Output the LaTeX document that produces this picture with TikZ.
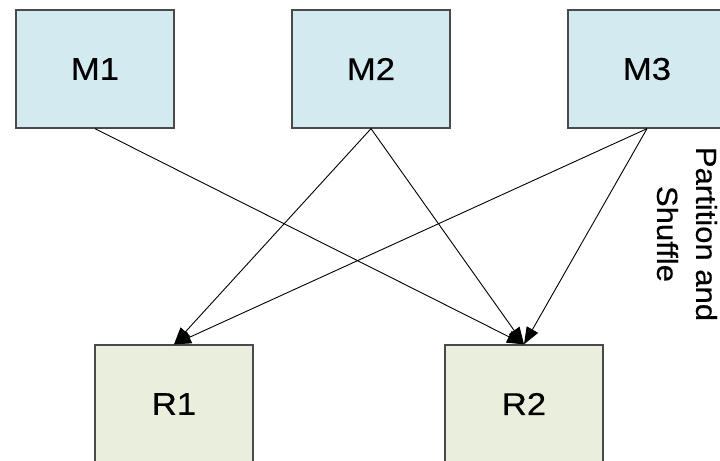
\documentclass[tikz,border=0pt]{standalone}
\usepackage{fontspec}
\setmainfont{Liberation Sans}[FakeBold=0.35]
\usetikzlibrary{arrows.meta}
\definecolor{mfill}{HTML}{D3EAF0}
\definecolor{rfill}{HTML}{EAEEDD}
\definecolor{bord}{HTML}{4A4A4A}
\tikzset{
  boxbase/.style={draw=bord, line width=1.3bp, minimum width=158bp, minimum height=118bp, inner sep=0pt, font=\fontsize{31.5bp}{36bp}\selectfont},
  mbox/.style={boxbase, fill=mfill},
  rbox/.style={boxbase, fill=rfill},
  arr/.style={draw=black, line width=0.9bp, -{Triangle[length=17bp, width=13bp]}},
}
\newcommand{\wide}[1]{\scalebox{1.1}[1]{#1}}
\begin{document}
\begin{tikzpicture}[x=1bp, y=-1bp]
\useasboundingbox (0,0) rectangle (720,461);
\clip (0,0) rectangle (720,461);
\fill[white] (0,0) rectangle (720,461);
\node[mbox] (M1) at (95,69) {\wide{M1}};
\node[mbox] (M2) at (371,69) {\wide{M2}};
\node[mbox] (M3) at (647,69) {\wide{M3}};
\node[rbox] (R1) at (174,404) {\wide{R1}};
\node[rbox] (R2) at (524,404) {\wide{R2}};
\draw[arr] (M1.south) -- (R2.north);
\draw[arr] (M2.south) -- (R1.north);
\draw[arr] (M2.south) -- (R2.north);
\draw[arr] (M3.south) -- (R1.north);
\draw[arr] (M3.south) -- (R2.north);
\begin{scope}[shift={(687,234)}]
\node[rotate=-90, xscale=1.07, transform shape, align=center, inner sep=0pt, font=\fontsize{29bp}{39bp}\selectfont] (lbl) at (0,0) {Partition and\\Shuffle};
\end{scope}
\end{tikzpicture}
\end{document}
